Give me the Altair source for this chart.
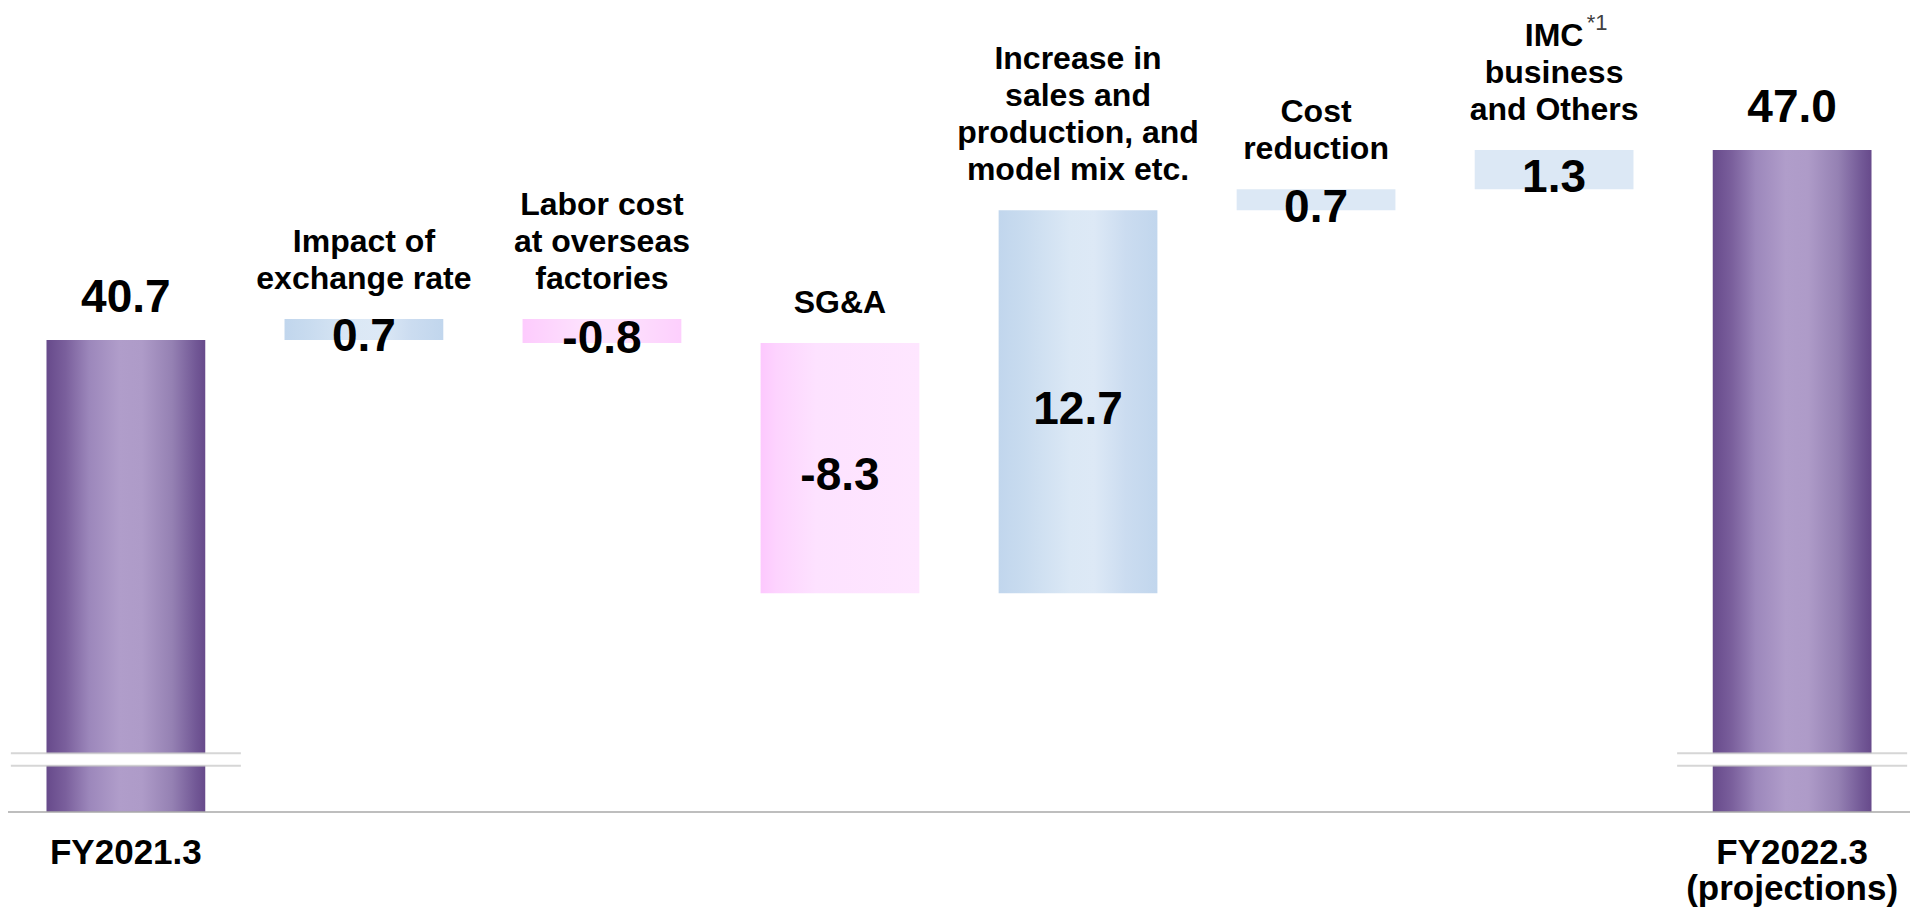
import altair as alt
import pandas as pd

# ---- data ----
cat_ids = ["fy2021", "fx", "labor", "sga", "sales", "cost", "imc", "fy2022"]
top_labels = [
    "",
    "Impact of\nexchange rate",
    "Labor cost\nat overseas\nfactories",
    "SG&A",
    "Increase in\nsales and\nproduction, and\nmodel mix etc.",
    "Cost\nreduction",
    "IMC\nbusiness\nand Others",
    "",
]
bottom_labels = ["FY2021.3", "", "", "", "", "", "", "FY2022.3\n(projections)"]
values = [40.7, 0.7, -0.8, -8.3, 12.7, 0.7, 1.3, 47.0]
is_total = [True, False, False, False, False, False, False, True]

# broken-axis floor and the break band (scale values, not data)
BASE = 25.05
BREAK_HI = 27.0
BREAK_LO = 26.58
Y_MIN, Y_MAX = 21.866, 51.708
W, H = 1902, 900
PPU = H / (Y_MAX - Y_MIN)        # pixels per unit on the y scale
CAT_LINE_H = 37                  # line height of the category labels

rows = []
running = 0.0
for cid, tl, bl, v, tot in zip(cat_ids, top_labels, bottom_labels, values, is_total):
    if tot:
        start, end = BASE, v
        running = v
    else:
        start, end = running, running + v
        running = end
    top = max(start, end)
    n_lines = len(tl.split("\n")) if tl else 1
    rows.append(dict(cat=cid, top_label=tl, bottom_label=bl, value=v,
                     label=f"{v:.1f}", total=tot, start=start, end=end,
                     top=top, mid=(start + end) / 2,
                     # first-line anchor so that the last line sits just above the bar
                     label_anchor=top + (n_lines - 1) * CAT_LINE_H / PPU,
                     brk_hi=BREAK_HI, brk_lo=BREAK_LO, base=BASE))
df = pd.DataFrame(rows)

FONT = "Liberation Sans, Arial, sans-serif"

x = alt.X("cat:N", sort=cat_ids, axis=None,
          scale=alt.Scale(domain=cat_ids, paddingInner=0.333, paddingOuter=0.1617))
yscale = alt.Scale(domain=[Y_MIN, Y_MAX], nice=False, zero=False)


def grad(stops):
    return alt.Gradient(gradient="linear", x1=0, x2=1, y1=0, y2=0,
                        stops=[alt.GradientStop(offset=o, color=c) for o, c in stops])


purple = grad([(0, "#674a8b"), (0.12, "#7a5f9c"), (0.27, "#9c87bb"), (0.46, "#b09dca"),
               (0.6, "#ae9bc8"), (0.79, "#9581b3"), (0.94, "#725896"), (1, "#674a8b")])
blue = grad([(0, "#c1d6ed"), (0.15, "#c8dbef"), (0.45, "#dbe8f5"), (0.6, "#dde9f6"),
             (0.8, "#cbdcf0"), (1, "#c1d6ed")])
pink_sga = grad([(0, "#fdc8fe"), (0.1, "#fdd3fe"), (0.35, "#fde2ff"), (1, "#fee6ff")])
pink_labor = grad([(0, "#fdcbfd"), (0.4, "#fde2fd"), (0.6, "#fde2fd"), (1, "#fdcffd")])

base = alt.Chart(df)
bar_enc = dict(x=x, y=alt.Y("start:Q", scale=yscale, axis=None), y2="end:Q")


def bars(ids, color):
    return base.mark_bar(color=color).encode(**bar_enc).transform_filter(
        alt.FieldOneOfPredicate(field="cat", oneOf=ids))


totals = bars(["fy2021", "fy2022"], purple)
blue_bars = bars(["fx", "sales"], blue)
flat_bars = bars(["cost", "imc"], "#dce8f5")
sga_bar = bars(["sga"], pink_sga)
labor_bar = bars(["labor"], pink_labor)

tot_filter = alt.FieldEqualPredicate(field="total", equal=True)
delta_filter = alt.FieldEqualPredicate(field="total", equal=False)

gap = base.mark_bar(color="white", width=232).encode(
    x=x, y=alt.Y("brk_lo:Q", scale=yscale, axis=None), y2="brk_hi:Q"
).transform_filter(tot_filter)

line_hi = base.mark_tick(color="#c4c4c4", thickness=2, size=230).encode(
    x=x, y=alt.Y("brk_hi:Q", scale=yscale, axis=None)).transform_filter(tot_filter)
line_lo = base.mark_tick(color="#c4c4c4", thickness=2, size=230).encode(
    x=x, y=alt.Y("brk_lo:Q", scale=yscale, axis=None)).transform_filter(tot_filter)

baseline = alt.Chart(pd.DataFrame({"base": [BASE]})).mark_rule(
    color="#a8a8a8", strokeWidth=1.5).encode(
    y=alt.Y("base:Q", scale=yscale, axis=None), x=alt.value(0), x2=alt.value(W))

tot_labels = base.mark_text(font=FONT, fontSize=46, fontWeight="bold", color="black",
                            baseline="middle", dy=-42).encode(
    x=x, y=alt.Y("end:Q", scale=yscale, axis=None), text="label:N"
).transform_filter(tot_filter)

delta_labels = base.mark_text(font=FONT, fontSize=46, fontWeight="bold", color="black",
                              baseline="middle", dy=8).encode(
    x=x, y=alt.Y("mid:Q", scale=yscale, axis=None), text="label:N"
).transform_filter(delta_filter)

cat_labels = base.mark_text(font=FONT, fontSize=32, fontWeight="bold", color="black",
                            baseline="alphabetic", lineBreak="\n",
                            lineHeight=CAT_LINE_H, dy=-30).encode(
    x=x, y=alt.Y("label_anchor:Q", scale=yscale, axis=None), text="top_label:N"
).transform_filter(delta_filter)

bot_labels = base.mark_text(font=FONT, fontSize=35, fontWeight="bold", color="black",
                            baseline="alphabetic", lineBreak="\n", lineHeight=36, dy=52).encode(
    x=x, y=alt.Y("base:Q", scale=yscale, axis=None), text="bottom_label:N"
).transform_filter(tot_filter)

note = base.mark_text(font=FONT, fontSize=22, fontWeight="normal", color="#404040",
                      baseline="alphabetic", dx=43, dy=-46).encode(
    x=x, y=alt.Y("label_anchor:Q", scale=yscale, axis=None), text=alt.value("*1")
).transform_filter(alt.FieldEqualPredicate(field="cat", equal="imc"))

chart = alt.layer(
    totals, blue_bars, flat_bars, sga_bar, labor_bar,
    gap, line_hi, line_lo, baseline,
    tot_labels, delta_labels, cat_labels, bot_labels, note,
).properties(
    width=W, height=H, padding=0,
    autosize=alt.AutoSizeParams(type="none"),
    background="white",
).configure_view(stroke=None)

chart.save("out.html", embed_options={"renderer": "svg", "actions": False})
